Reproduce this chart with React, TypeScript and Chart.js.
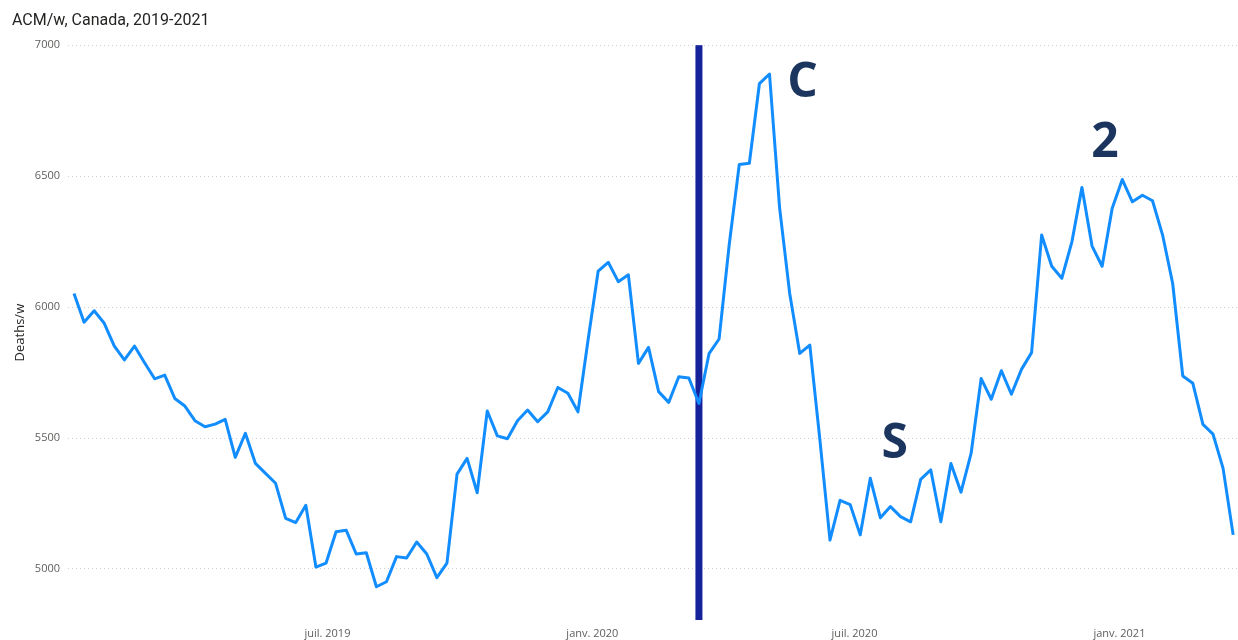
import React, { useEffect, useRef } from "react";
import { Chart, registerables } from "chart.js";

Chart.register(...registerables);

// ---- data ----
const startDate = "2019-01-06"; // first weekly observation
const deaths = [
  6052, 5942, 5986, 5938, 5851, 5798, 5851, 5787, 5726, 5740,
  5651, 5622, 5566, 5543, 5553, 5571, 5426, 5518, 5403, 5365,
  5327, 5193, 5177, 5243, 5007, 5022, 5142, 5148, 5057, 5062,
  4932, 4951, 5047, 5042, 5103, 5057, 4967, 5022, 5362, 5422,
  5291, 5603, 5508, 5497, 5566, 5607, 5562, 5600, 5693, 5671,
  5600, 5874, 6137, 6171, 6097, 6123, 5785, 5846, 5677, 5636,
  5734, 5729, 5632, 5822, 5878, 6237, 6544, 6549, 6853, 6890,
  6380, 6053, 5823, 5855, 5493, 5110, 5262, 5246, 5130, 5346,
  5195, 5238, 5200, 5180, 5342, 5378, 5180, 5403, 5293, 5441,
  5727, 5648, 5757, 5667, 5762, 5826, 6275, 6156, 6110, 6249,
  6457, 6233, 6156, 6377, 6487, 6402, 6427, 6406, 6275, 6090,
  5737, 5709, 5552, 5515, 5384, 5130,
];
const tickDates = ["2019-07-01", "2020-01-01", "2020-07-01", "2021-01-01"];
const tickLabels = ["juil. 2019", "janv. 2020", "juil. 2020", "janv. 2021"];
const yTicks = [5000, 5500, 6000, 6500, 7000];
const markerDate = "2020-03-15";
const annotationTexts = ["C", "S", "2"];
const annotationDates = ["2020-05-26", "2020-07-29", "2020-12-22"];
const annotationValues = [6866, 5488, 6637];

const titleText = "ACM/w, Canada, 2019-2021";
const yTitle = "Deaths/w";

const WEEK_MS = 7 * 86400000;
const weekOf = (d: string) => (Date.parse(d) - Date.parse(startDate)) / WEEK_MS;

const overlayPlugin = {
  id: "overlay",
  beforeDatasetsDraw(chart: any) {
    const { ctx, chartArea, scales } = chart;
    const x = scales.x.getPixelForValue(weekOf(markerDate));
    ctx.save();
    ctx.fillStyle = "#15229a";
    ctx.fillRect(x - 3.5, chartArea.top, 7, chartArea.bottom - chartArea.top);
    ctx.restore();
  },
  afterDatasetsDraw(chart: any) {
    const { ctx, scales } = chart;
    ctx.save();
    ctx.fillStyle = "#1b355e";
    ctx.font = "bold 48px 'Open Sans', sans-serif";
    ctx.textAlign = "center";
    ctx.textBaseline = "alphabetic";
    annotationTexts.forEach((t, i) => {
      const x = scales.x.getPixelForValue(weekOf(annotationDates[i]));
      const y = scales.y.getPixelForValue(annotationValues[i]);
      ctx.fillText(t, x, y + 17);
    });
    ctx.restore();
  },
};

export default function App() {
  const ref = useRef<HTMLCanvasElement>(null);

  useEffect(() => {
    document.body.style.margin = "0";
    const canvas = ref.current;
    if (!canvas) return;
    const points = deaths.map((v, i) => ({ x: i, y: v }));
    const chart = new Chart(canvas, {
      type: "line",
      data: {
        datasets: [
          {
            data: points,
            borderColor: "#118dff",
            borderWidth: 3,
            pointRadius: 0,
            tension: 0,
            fill: false,
            borderJoinStyle: "round",
          },
        ],
      },
      options: {
        responsive: false,
        animation: false,
        events: [],
        layout: { padding: { left: 12, right: 0, top: 0, bottom: 0 } },
        plugins: {
          legend: { display: false },
          tooltip: { enabled: false },
          title: {
            display: true,
            text: titleText,
            align: "start",
            color: "#252423",
            font: { family: "Roboto, 'Open Sans', sans-serif", size: 16, weight: "normal" },
            padding: { top: 11, bottom: 15 },
          },
        },
        scales: {
          x: {
            type: "linear",
            min: -0.595,
            max: 115.48,
            grid: { display: false, drawTicks: false },
            border: { display: false },
            afterBuildTicks: (s: any) => {
              s.ticks = tickDates.map((d) => ({ value: weekOf(d) }));
            },
            afterFit: (s: any) => {
              s.height = 20;
            },
            ticks: {
              autoSkip: false,
              maxRotation: 0,
              minRotation: 0,
              padding: 7,
              color: "#605e5c",
              font: { family: "'Open Sans', sans-serif", size: 11 },
              callback: (_v: any, i: number) => tickLabels[i],
            },
          },
          y: {
            type: "linear",
            min: 4805,
            max: 7000,
            afterBuildTicks: (s: any) => {
              s.ticks = yTicks.map((v) => ({ value: v }));
            },
            afterFit: (s: any) => {
              s.width = 56;
            },
            grid: {
              color: "#cfcfcf",
              lineWidth: 1,
              drawTicks: false,
            },
            border: { display: false, dash: [1, 3] },
            ticks: {
              padding: 8,
              color: "#605e5c",
              font: { family: "'Open Sans', sans-serif", size: 11 },
              callback: (v: any) => String(v),
            },
            title: {
              display: true,
              text: yTitle,
              color: "#252423",
              font: { family: "'Open Sans', sans-serif", size: 13 },
              padding: { top: 0, bottom: 0 },
            },
          },
        },
      },
      plugins: [overlayPlugin],
    } as any);
    return () => chart.destroy();
  }, []);

  return (
    <div style={{ position: "fixed", left: 0, top: 0, width: 1238, height: 640, background: "#fff" }}>
      <canvas ref={ref} width={1238} height={640} />
    </div>
  );
}
